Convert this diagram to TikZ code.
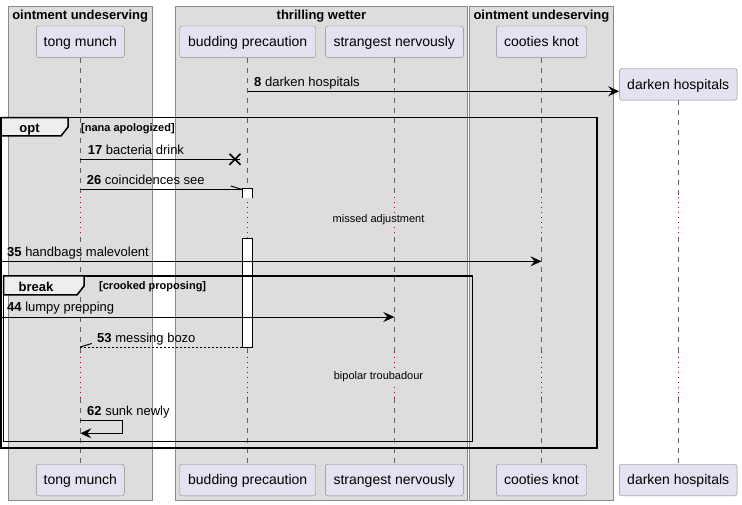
\documentclass[tikz,border=0pt]{standalone}
\usepackage{fontspec}
\setmainfont{Liberation Sans}
\usetikzlibrary{arrows.meta}
\definecolor{grpfill}{HTML}{DDDDDD}
\definecolor{grpline}{HTML}{8A8A8A}
\definecolor{partfill}{HTML}{E2E2F0}
\definecolor{partline}{HTML}{8A8A8A}
\definecolor{lifecol}{HTML}{606060}
\definecolor{delayred}{HTML}{A80036}
\definecolor{tabfill}{HTML}{EEEEEE}
\begin{document}
\begin{tikzpicture}[x=1pt,y=-1pt,
  grp/.style={fill=grpfill,draw=grpline,line width=0.9pt},
  part/.style={draw=partline,fill=partfill,rounded corners=2.5pt,font=\fontsize{14}{16}\selectfont,inner sep=0pt,minimum height=31.6pt,text height=11.5pt,text depth=2pt},
  life/.style={draw=lifecol,dash pattern=on 5pt off 5pt,line width=0.8pt},
  delayline/.style={draw=delayred,dash pattern=on 1pt off 4pt,line width=1pt},
  msg/.style={line width=1pt,-{Stealth[length=11pt,width=10pt,inset=4pt]}},
  lbl/.style={font=\fontsize{13}{15}\selectfont,anchor=base west,inner sep=0pt},
  frm/.style={draw=black,line width=1.5pt},
  tabshape/.style={fill=tabfill,draw=black,line width=1.5pt},
  tablbl/.style={font=\bfseries\fontsize{13}{15}\selectfont,anchor=base,inner sep=0pt},
  grptitle/.style={font=\bfseries\fontsize{13}{15}\selectfont,anchor=base,inner sep=0pt},
  guard/.style={font=\bfseries\fontsize{11}{13}\selectfont,anchor=base west,inner sep=0pt},
  delaytext/.style={font=\fontsize{11}{13}\selectfont,inner sep=1pt,fill=grpfill},
  act/.style={draw=black,fill=white,line width=1pt}
]
\useasboundingbox (0,0) rectangle (742,505);

% group boxes
\draw[grp] (8.3,6) rectangle (152,500);
\draw[grp] (175.7,6) rectangle (467.3,500);
\draw[grp] (469.5,6) rectangle (613.3,500);
\node[grptitle] (g1) at (80.2,19.5) {ointment undeserving};
\node[grptitle] (g2) at (321.5,19.5) {thrilling wetter};
\node[grptitle] (g3) at (541.4,19.5) {ointment undeserving};

% participants
\node[part,minimum width=88pt] (tA) at (80.3,41.85) {tong munch};
\node[part,minimum width=136pt] (tB) at (247.7,41.85) {budding precaution};
\node[part,minimum width=138pt] (tC) at (394.3,41.85) {strangest nervously};
\node[part,minimum width=90.4pt] (tD) at (541.5,41.85) {cooties knot};
\node[part,minimum width=117.7pt] (tE) at (678.2,84.3) {darken hospitals};
\node[part,minimum width=88pt] (bA) at (80.3,480) {tong munch};
\node[part,minimum width=136pt] (bB) at (247.7,480) {budding precaution};
\node[part,minimum width=138pt] (bC) at (394.3,480) {strangest nervously};
\node[part,minimum width=90.4pt] (bD) at (541.5,480) {cooties knot};
\node[part,minimum width=117.7pt] (bE) at (678.2,480) {darken hospitals};

% lifelines
\foreach \p in {A,B,C,D,E}{
  \draw[life] (t\p.south) -- (t\p.south |- 0,197.5);
  \draw[delayline] (t\p.south |- 0,197.5) -- (t\p.south |- 0,237);
  \draw[life] (t\p.south |- 0,237) -- (t\p.south |- 0,351.5);
  \draw[delayline] (t\p.south |- 0,351.5) -- (t\p.south |- 0,398);
  \draw[life] (t\p.south |- 0,398) -- (b\p.north);
}

% delays
\node[delaytext] (d1) at (378.5,219.5) {missed adjustment};
\node[delaytext] (d2) at (378.5,377) {bipolar troubadour};

% activation
\draw[act] (242.3,197.7) |- (252.7,189) -- (252.7,197.7);
\draw[act] (242.3,239) rectangle (252.7,347);
\coordinate (a1) at (242.3,189.5);
\coordinate (a2) at (242.3,347);

% frames
\draw[frm] (1.2,117.7) rectangle (597,448);
\draw[tabshape] (1.2,117.7) -- (68,117.7) -- (68,127) -- (61,136) -- (1.2,136) -- cycle;
\node[tablbl] (optl) at (29.5,132.5) {opt};
\node[guard] (optg) at (81,132) {[nana apologized]};
\draw[frm] (3.7,276) rectangle (472.5,441.5);
\draw[tabshape] (3.7,276) -- (84,276) -- (84,286) -- (77,295) -- (3.7,295) -- cycle;
\node[tablbl] (brl) at (36,291) {break};
\node[guard] (brg) at (99,290) {[crooked proposing]};

% message 8
\draw[msg] (tB.south |- 0,91.3) -- (tE.west |- 0,91.3);
\node[lbl] (l8) at (254,86.3) {\textbf{8} darken hospitals};

% message 17
\coordinate (x17) at (235,159.3);
\draw[line width=1pt] (tA.south |- x17) -- ([xshift=5pt]x17);
\draw[line width=1.5pt] ([shift={(-5.5,-5.5)}]x17) -- ([shift={(5.5,5.5)}]x17)
  ([shift={(-5.5,5.5)}]x17) -- ([shift={(5.5,-5.5)}]x17);
\node[lbl] (l17) at (87.7,154.3) {\textbf{17} bacteria drink};

% message 26
\draw[line width=1pt] (tA.south |- a1) -- (a1);
\draw[line width=1pt] (a1) -- ++(-11.5,-3.5);
\node[lbl] (l26) at (86.7,184.5) {\textbf{26} coincidences see};

% message 35
\coordinate (e35) at (0,261.3);
\draw[msg] (e35) -- (tD.south |- e35);
\node[lbl] (l35) at (7,256.3) {\textbf{35} handbags malevolent};

% message 44
\coordinate (e44) at (0,317);
\draw[msg] (e44) -- (tC.south |- e44);
\node[lbl] (l44) at (7,312) {\textbf{44} lumpy prepping};

% message 53
\draw[line width=1pt,dash pattern=on 2pt off 2pt] (a2) -- (tA.south |- a2);
\draw[line width=1pt] (tA.south |- a2) -- ++(11.5,-3.5);
\node[lbl] (l53) at (97,342) {\textbf{53} messing bozo};

% message 62
\draw[msg] (tA.south |- 0,420.3) -- (122.7,420.3) -- (122.7,433.3) -- (tA.south |- 0,433.3);
\node[lbl] (l62) at (87,415.3) {\textbf{62} sunk newly};
\end{tikzpicture}
\end{document}
